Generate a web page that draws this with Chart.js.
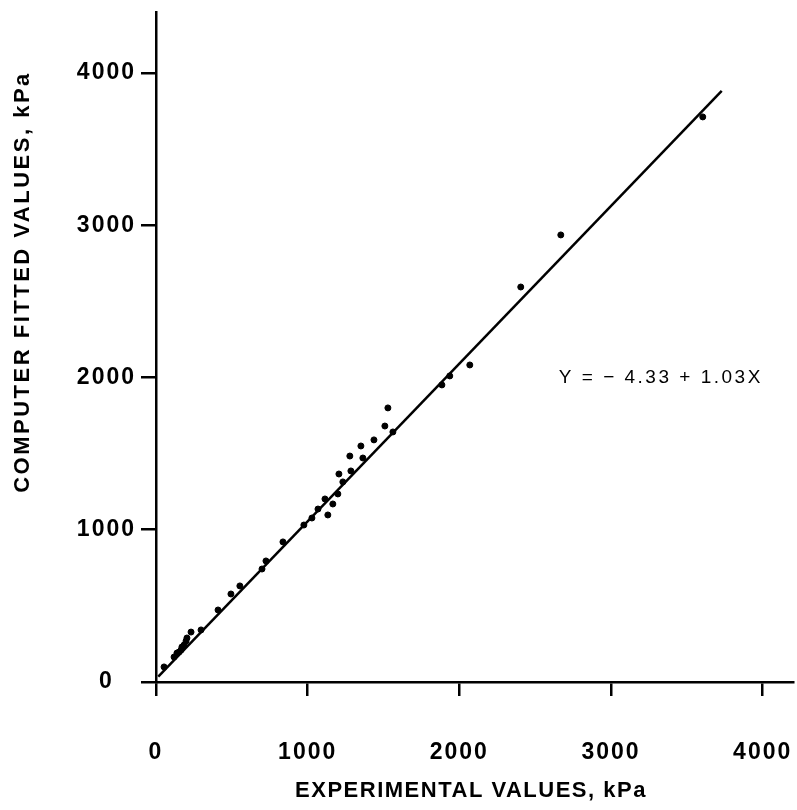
<!DOCTYPE html>
<html>
<head>
<meta charset="utf-8">
<title>Computer fitted vs experimental values</title>
<script src="https://cdn.jsdelivr.net/npm/chart.js@4/dist/chart.umd.min.js"></script>
<style>
    html, body { margin: 0; padding: 0; background: #fff; }
    #wrap { width: 797px; height: 810px; }
</style>
</head>
<body>
<div id="wrap"><canvas id="fitChart" width="797" height="810"></canvas></div>
<script>
// Data (kPa)
const experimental = [53, 119, 138, 152, 165, 171, 185, 198, 204, 231, 297, 409, 494, 553, 699, 725, 837,
    975, 1028, 1068, 1114, 1133, 1166, 1199, 1206, 1232, 1278, 1285, 1351, 1364, 1437, 1509, 1529, 1562,
    1885, 1937, 2069, 2405, 2669, 3605];
const fitted = [99, 164, 190, 197, 210, 230, 243, 269, 289, 328, 342, 473, 578, 631, 742, 795, 920,
    1031, 1077, 1136, 1202, 1097, 1169, 1235, 1366, 1314, 1484, 1386, 1550, 1471, 1590, 1681, 1800, 1642,
    1951, 2010, 2082, 2594, 2936, 3711];

// Regression line as drawn
const lineX = [15, 3730];
const lineY = [35, 3882];

const tickValues = [0, 1000, 2000, 3000, 4000];
const xTitle = 'EXPERIMENTAL VALUES, kPa';
const yTitle = 'COMPUTER FITTED VALUES, kPa';
const equation = 'Y = \u2212 4.33 + 1.03X';
const equationAt = { x: 2656, y: 1997 };

document.addEventListener('DOMContentLoaded', () => {
    const ctx = document.getElementById('fitChart').getContext('2d');

    // Wider letter spacing like the typewritten labels
    const spacingPlugin = {
        id: 'spacing',
        beforeLayout(chart) { chart.ctx.letterSpacing = '2px'; },
        beforeDraw(chart) { chart.ctx.letterSpacing = '2px'; }
    };

    // Axis titles and the equation text
    const labelsPlugin = {
        id: 'labels',
        afterDraw(chart) {
            const c = chart.ctx;
            const xs = chart.scales.x;
            const ys = chart.scales.y;
            c.save();
            c.fillStyle = '#000';
            c.textAlign = 'center';
            c.textBaseline = 'middle';

            c.font = 'bold 22px "Liberation Sans", Arial, sans-serif';
            c.letterSpacing = '1.5px';
            c.fillText(xTitle, 471, 791);

            c.save();
            c.translate(23, 282);
            c.rotate(-Math.PI / 2);
            c.letterSpacing = '2.5px';
            c.fillText(yTitle, 0, 0);
            c.restore();

            c.font = '19px "Liberation Sans", Arial, sans-serif';
            c.letterSpacing = '2.5px';
            c.textAlign = 'left';
            c.fillText(equation, xs.getPixelForValue(equationAt.x), ys.getPixelForValue(equationAt.y));
            c.restore();
        }
    };

    const tickFont = { family: '"Liberation Sans", Arial, sans-serif', size: 23, weight: 'bold' };
    const plainLabel = (v) => String(v);

    new Chart(ctx, {
        type: 'scatter',
        data: {
            datasets: [
                {
                    label: 'Fit',
                    type: 'line',
                    data: lineX.map((x, i) => ({ x: x, y: lineY[i] })),
                    borderColor: '#000',
                    borderWidth: 2.5,
                    pointRadius: 0,
                    fill: false
                },
                {
                    label: 'Data',
                    data: experimental.map((x, i) => ({ x: x, y: fitted[i] })),
                    backgroundColor: '#000',
                    borderColor: '#000',
                    pointRadius: 3,
                    pointHoverRadius: 3
                }
            ]
        },
        options: {
            responsive: false,
            animation: false,
            layout: { padding: { top: 12, right: 0, left: 0, bottom: 0 } },
            plugins: {
                legend: { display: false },
                tooltip: { enabled: false }
            },
            scales: {
                x: {
                    type: 'linear',
                    min: 0,
                    max: 4200,
                    afterBuildTicks: (scale) => { scale.ticks = tickValues.map(v => ({ value: v })); },
                    afterFit: (scale) => {
                        scale.height = 128;
                        scale.paddingLeft = 0;
                        scale.paddingRight = 0;
                    },
                    border: { display: true, color: '#000', width: 2.5 },
                    grid: { drawOnChartArea: false, drawTicks: true, tickLength: 14, color: '#000', lineWidth: 2.5 },
                    ticks: { color: '#000', font: tickFont, padding: 43, maxRotation: 0, callback: plainLabel }
                },
                y: {
                    type: 'linear',
                    min: 0,
                    max: 4400,
                    afterBuildTicks: (scale) => { scale.ticks = tickValues.map(v => ({ value: v })); },
                    afterFit: (scale) => {
                        scale.width = 156;
                        scale.paddingTop = 0;
                        scale.paddingBottom = 0;
                    },
                    border: { display: true, color: '#000', width: 2.5 },
                    grid: { drawOnChartArea: false, drawTicks: true, tickLength: 15, color: '#000', lineWidth: 2.5 },
                    ticks: { color: '#000', font: tickFont, padding: 5, crossAlign: 'center', callback: plainLabel }
                }
            }
        },
        plugins: [spacingPlugin, labelsPlugin]
    });
});
</script>
</body>
</html>
